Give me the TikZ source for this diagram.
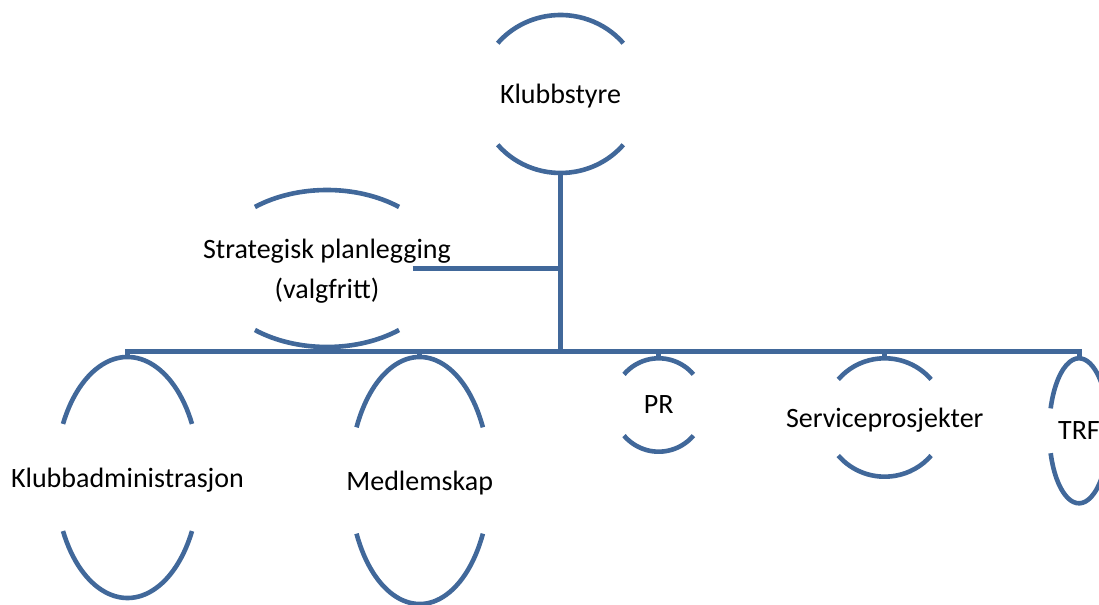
\documentclass[tikz,border=0pt]{standalone}
\usepackage{fontspec}
\setmainfont{Carlito}
\usetikzlibrary{shapes.geometric}

\definecolor{orgblue}{HTML}{41689A}

% top and bottom arc of a node's ellipse: node, x radius, y radius, start angle
\newcommand{\orgarcs}[4]{%
    \draw[orgline] ([shift={({#2*cos(#4)},{#3*sin(#4)})}]#1.center) arc[start angle=#4, end angle=180-#4, x radius=#2bp, y radius=#3bp];
    \draw[orgline] ([shift={({-#2*cos(#4)},{-#3*sin(#4)})}]#1.center) arc[start angle=180+#4, end angle=360-#4, x radius=#2bp, y radius=#3bp];
}

\tikzset{
    org/.style={shape=ellipse, inner sep=0pt, align=center, text=black,
        text depth=0pt, font=\fontsize{28bp}{40bp}\selectfont},
    orgline/.style={draw=orgblue, line width=4.6bp},
    orglink/.style={draw=orgblue, line width=5bp},
}

\begin{document}
\begin{tikzpicture}[x=1bp, y=1bp]
    \useasboundingbox (0,0) rectangle (1099,605);
    \node[org, minimum width=164, minimum height=158] (styre) at (560.5, 511) {Klubbstyre};
    \node[org, minimum width=232, minimum height=157] (plan) at (327, 336.5) {Strategisk planlegging\\(valgfritt)};
    \node[org, minimum width=144, minimum height=241] (adm) at (127.5, 127.5) {Klubbadministrasjon};
    \node[org, minimum width=140, minimum height=247] (medl) at (419.7, 124.5) {Medlemskap};
    \node[org, minimum width=92, minimum height=93.4] (pr) at (658.7, 200) {PR};
    \node[org, minimum width=121, minimum height=118.4] (serv) at (884.7, 187.5) {Serviceprosjekter};
    \node[org, minimum width=59.6, minimum height=145] (trf) at (1079, 174.2) {TRF};
    \coordinate (bus) at (560.5, 253);

    \orgarcs{styre}{82}{79}{40}
    \orgarcs{plan}{116}{78.5}{51.6}
    \orgarcs{adm}{72}{120.5}{26.4}
    \orgarcs{medl}{70}{123.5}{25.5}
    \orgarcs{pr}{46}{46.7}{41}
    \orgarcs{serv}{60.6}{59.2}{40}
    \orgarcs{trf}{29.8}{72.5}{18}

    \draw[orglink] (styre.south) -- (bus);
    \draw[orglink] ([xshift=86]plan.center) -- (plan.center -| styre.south);
    \draw[orglink] (adm.north) -- (adm.north |- bus) -- (trf.north |- bus) -- (trf.north);
    \foreach \n in {medl, pr, serv}
        \draw[orglink] (\n.north) -- (\n.north |- bus);
\end{tikzpicture}
\end{document}
